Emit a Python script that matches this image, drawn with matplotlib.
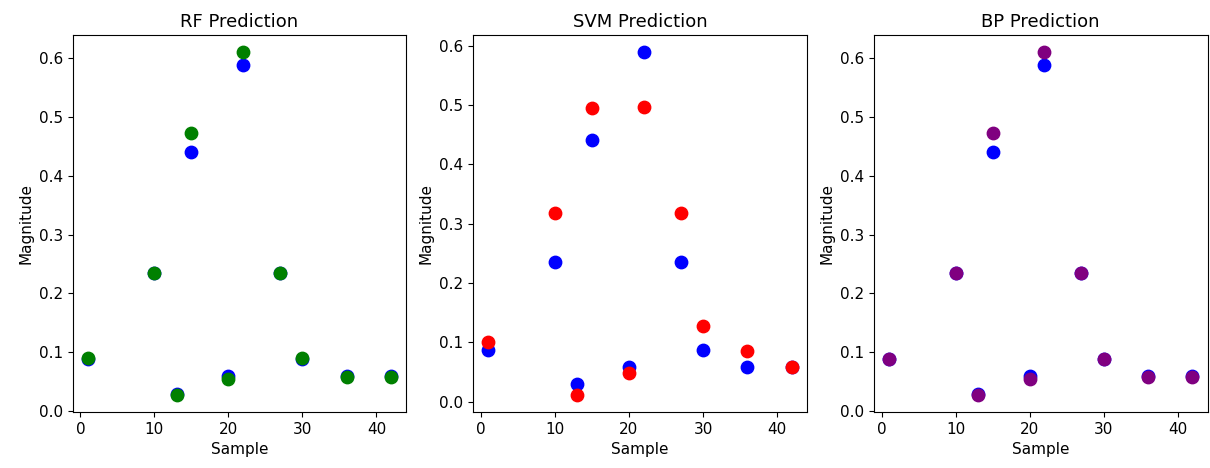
import matplotlib
matplotlib.use('Agg')
import matplotlib.pyplot as plt

samples = [1, 10, 13, 15, 20, 22, 27, 30, 36, 42]
actual = [0.088, 0.235, 0.030, 0.441, 0.059, 0.589, 0.235, 0.088, 0.059, 0.059]
rf_pred = [0.090, 0.234, 0.028, 0.472, 0.054, 0.610, 0.234, 0.090, 0.058, 0.058]
svm_pred = [0.100, 0.318, 0.012, 0.495, 0.049, 0.497, 0.318, 0.127, 0.086, 0.059]
bp_pred = [0.089, 0.234, 0.028, 0.472, 0.054, 0.610, 0.234, 0.089, 0.058, 0.058]

fig, axes = plt.subplots(1, 3, figsize=(12.1, 4.68), dpi=100)
fig.subplots_adjust(left=0.060, right=0.998, top=0.925, bottom=0.120, wspace=0.2)

panels = [('RF Prediction', rf_pred, 'green'),
          ('SVM Prediction', svm_pred, 'red'),
          ('BP Prediction', bp_pred, 'purple')]

for ax, (title, pred, color) in zip(axes, panels):
    ax.scatter(samples, actual, color='blue', s=80)
    ax.scatter(samples, pred, color=color, s=80)
    ax.set_title(title, fontsize=13)
    ax.set_xlabel('Sample', fontsize=11)
    ax.set_ylabel('Magnitude', fontsize=11)
    ax.tick_params(labelsize=11)

fig.savefig('out.png', dpi=100)
